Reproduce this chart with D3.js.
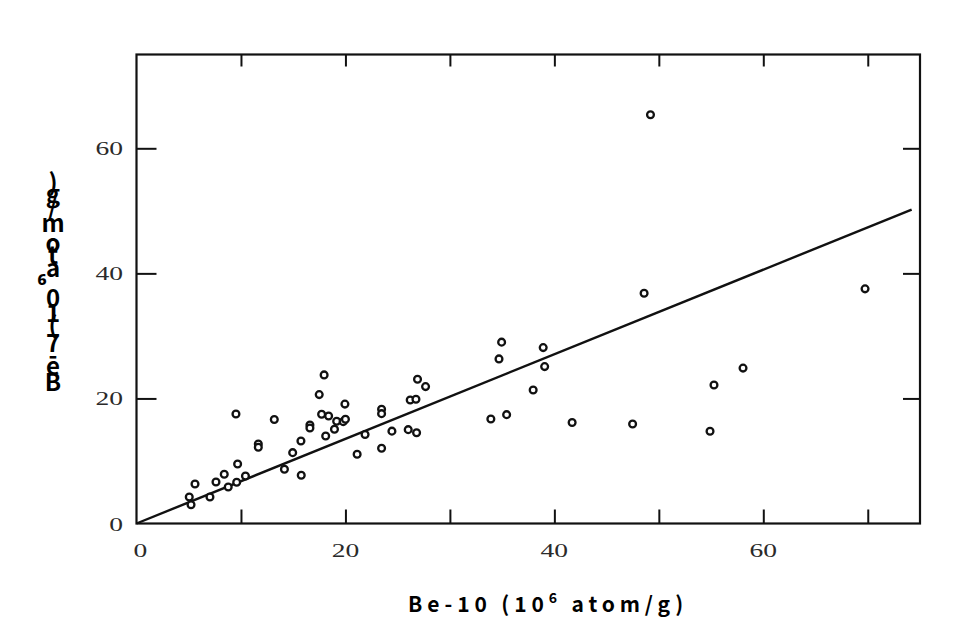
<!DOCTYPE html>
<html><head><meta charset="utf-8">
<script src="https://cdn.jsdelivr.net/npm/d3@7"></script>
<style>body{margin:0;background:#fff}svg{display:block}</style>
</head><body><svg id="c" width="963" height="621"></svg>
<script>
// ---- data ----
const xTickLabels = [0, 20, 40, 60];
const yTickLabels = [0, 20, 40, 60];
const xFrameTicks = [10, 20, 30, 40, 50, 60, 70];
const yFrameTicks = [20, 40, 60];
const be10 = [5.05, 5.22, 5.60, 7.03, 7.61, 8.40, 8.78, 9.59, 9.68, 10.43,
  9.52, 11.66, 11.66, 13.19, 14.16, 14.95, 15.74, 15.77, 16.60, 16.60,
  17.49, 17.96, 17.72, 18.11, 18.39, 18.95, 19.16, 19.79, 20.00, 19.95,
  21.12, 21.88, 23.46, 23.46, 23.46, 24.45, 26.01, 26.81, 26.20, 26.75,
  26.90, 27.67, 33.92, 35.43, 34.70, 34.95, 37.97, 38.93, 39.07, 41.70,
  47.49, 48.59, 49.20, 54.90, 55.28, 58.06, 69.74];
const be7 = [4.24, 3.01, 6.32, 4.24, 6.64, 7.87, 5.84, 6.59, 9.52, 7.60,
  17.52, 12.72, 12.19, 16.64, 8.67, 11.33, 13.20, 7.71, 15.76, 15.28,
  20.61, 23.76, 17.47, 14.00, 17.20, 15.07, 16.35, 16.29, 16.67, 19.09,
  11.07, 14.24, 18.27, 17.57, 12.03, 14.77, 15.01, 14.51, 19.76, 19.87,
  23.07, 21.89, 16.72, 17.41, 26.32, 29.00, 21.36, 28.13, 25.09, 16.16,
  15.92, 36.83, 65.36, 14.75, 22.16, 24.85, 37.52];
const fitX = [0, 74.2];
const fitY = [0, 50.2];
const xTitleMain = "Be-10 (10";
const xTitleSup = "6";
const xTitleEnd = " atom/g)";
const yTitleChars = ["B","e","-","7"," ","(","1","0","⁶"," ","a","t","o","m","/","g",")"];

// ---- chart ----
const svg = d3.select("#c");
const X0 = 136.5, X1 = 920, Y0 = 523.5, Y1 = 54.5;
const x = d3.scaleLinear().domain([0, 75]).range([X0, X1]);
const y = d3.scaleLinear().domain([0, 75]).range([Y0, Y1]);

function tickStyle(g){ g.select(".domain").remove(); g.selectAll("line").attr("stroke","#111").attr("stroke-width",2); g.selectAll("text").remove(); }
svg.append("g").attr("transform",`translate(0,${Y0})`)
  .call(d3.axisBottom(x).tickValues(xFrameTicks).tickSize(-14).tickFormat("")).call(tickStyle);
svg.append("g").attr("transform",`translate(0,${Y1})`)
  .call(d3.axisTop(x).tickValues(xFrameTicks).tickSize(-12).tickFormat("")).call(tickStyle);
svg.append("g").attr("transform",`translate(${X0},0)`)
  .call(d3.axisLeft(y).tickValues(yFrameTicks).tickSize(-20).tickFormat("")).call(tickStyle);
svg.append("g").attr("transform",`translate(${X1},0)`)
  .call(d3.axisRight(y).tickValues(yFrameTicks).tickSize(-17).tickFormat("")).call(tickStyle);

svg.append("rect").attr("x",X0).attr("y",Y1).attr("width",X1-X0).attr("height",Y0-Y1)
  .attr("fill","none").attr("stroke","#111").attr("stroke-width",2.2);

const lblFont = "'Liberation Serif','DejaVu Serif',serif";
svg.append("g").selectAll("text").data(xTickLabels).join("text")
  .attr("transform", d => `translate(${x(d)+ (d===0?4:0)},557) scale(1.45,1)`)
  .attr("text-anchor","middle").attr("font-family",lblFont).attr("font-size",19)
  .attr("fill","#2a2a2a").text(d => d);
svg.append("g").selectAll("text").data(yTickLabels).join("text")
  .attr("transform", d => `translate(123,${y(d)+7}) scale(1.45,1)`)
  .attr("text-anchor","end").attr("font-family",lblFont).attr("font-size",19)
  .attr("fill","#2a2a2a").text(d => d);

svg.append("path").datum(d3.zip(fitX, fitY))
  .attr("d", d3.line().x(d => x(d[0])).y(d => y(d[1])))
  .attr("fill","none").attr("stroke","#111").attr("stroke-width",2.4);

svg.append("g").selectAll("circle").data(d3.zip(be10, be7)).join("circle")
  .attr("cx", d => x(d[0])).attr("cy", d => y(d[1])).attr("r",3.4)
  .attr("fill","#fff").attr("stroke","#111").attr("stroke-width",2.3);

// x title, stretched to the reference width
const titleFont = "'Noto Sans CJK KR','Noto Sans',sans-serif";
const xt = svg.append("text").attr("x",548).attr("y",612).attr("text-anchor","middle")
  .attr("font-family",titleFont).attr("font-weight","bold").attr("font-size",21)
  .attr("letter-spacing",3).attr("fill","#000");
xt.append("tspan").text(xTitleMain);
xt.append("tspan").attr("dy",-9).attr("font-size",14).text(xTitleSup);
xt.append("tspan").attr("dy",9).text(xTitleEnd);
const xw = xt.node().getBBox().width;
const nChars = (xTitleMain + xTitleSup + xTitleEnd).length;
xt.attr("letter-spacing", 3 + (280 - xw) / nChars);

// y title: upright glyphs stacked upward by their advance widths
const yt = svg.append("g");
const items = yTitleChars.map(ch => {
  const sup = ch === "⁶";
  const t = yt.append("text").attr("font-family",titleFont).attr("font-weight","bold")
    .attr("font-size", 24).attr("text-anchor","middle").attr("fill","#000").text(ch);
  return {t, sup, w: Math.max(t.node().getComputedTextLength(), 6)};
});
const span = d3.sum(items, d => d.w) - items[0].w/2 - items[items.length-1].w/2;
const k = 200 / span;
let cy = 383 + items[0].w*k/2;
items.forEach(d => {
  const c = cy - d.w*k/2;
  d.t.attr("x", d.sup ? 42 : 53).attr("y", c + 8);
  cy -= d.w*k;
});
</script></body></html>
